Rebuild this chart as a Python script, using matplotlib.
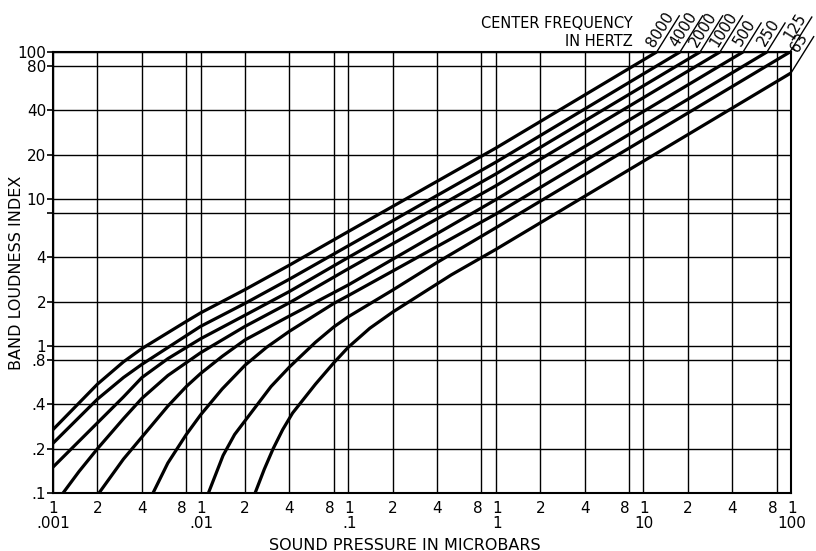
import numpy as np
import matplotlib.pyplot as plt
from matplotlib.lines import Line2D
from matplotlib.transforms import IdentityTransform, ScaledTranslation

# sound pressure (microbars) and band loudness index
p_8000 = [0.001, 0.002, 0.003, 0.004, 0.008, 0.01, 0.02, 0.04, 0.1, 1, 12.3]
s_8000 = [0.27, 0.55, 0.78, 0.96, 1.47, 1.68, 2.42, 3.55, 6.0, 22.2, 100]
p_4000 = [0.001, 0.002, 0.003, 0.004, 0.01, 0.02, 0.04, 0.1, 1, 17.7]
s_4000 = [0.218, 0.435, 0.61, 0.75, 1.36, 1.95, 2.85, 4.8, 17.8, 100]
p_2000 = [0.001, 0.002, 0.003, 0.004, 0.006, 0.01, 0.02, 0.04, 0.1, 1, 24.2]
s_2000 = [0.15, 0.30, 0.45, 0.61, 0.82, 1.12, 1.62, 2.35, 4.0, 14.8, 100]
p_1000 = [0.00117, 0.0015, 0.002, 0.003, 0.004, 0.006, 0.01, 0.02, 0.04, 0.1, 1, 33]
s_1000 = [0.1, 0.14, 0.2, 0.32, 0.44, 0.63, 0.9, 1.36, 1.97, 3.35, 12.3, 100]
p_500 = [0.00205, 0.003, 0.004, 0.006, 0.008, 0.01, 0.014, 0.02, 0.04, 0.1, 1, 47.3]
s_500 = [0.1, 0.17, 0.24, 0.39, 0.53, 0.65, 0.85, 1.1, 1.6, 2.6, 9.9, 100]
p_250 = [0.00476, 0.006, 0.008, 0.01, 0.014, 0.02, 0.028, 0.04, 0.08, 0.1, 1, 68.7]
s_250 = [0.1, 0.16, 0.25, 0.34, 0.51, 0.74, 0.98, 1.26, 1.95, 2.2, 7.9, 100]
p_125 = [0.0113, 0.0142, 0.017, 0.02, 0.03, 0.04, 0.06, 0.08, 0.1, 0.2, 0.4, 1, 98.4]
s_125 = [0.1, 0.18, 0.25, 0.31, 0.53, 0.72, 1.06, 1.35, 1.58, 2.4, 3.7, 6.37, 100]
p_63 = [0.0234, 0.027, 0.031, 0.036, 0.042, 0.06, 0.08, 0.1, 0.14, 0.2, 0.5, 1, 100]
s_63 = [0.1, 0.145, 0.2, 0.27, 0.35, 0.55, 0.77, 0.98, 1.32, 1.70, 3.05, 4.54, 72]

curves = [("8000", p_8000, s_8000), ("4000", p_4000, s_4000),
          ("2000", p_2000, s_2000), ("1000", p_1000, s_1000),
          ("500", p_500, s_500), ("250", p_250, s_250),
          ("125", p_125, s_125), ("63", p_63, s_63)]
# how far along its leader each label starts (pixels)
label_shift = {"8000": 2, "4000": 2, "2000": 2, "1000": 2, "500": 3, "250": 3,
               "125": 10, "63": 21}

decades = [0.001, 0.01, 0.1, 1, 10]
decade_names = [".001", ".01", ".1", "1", "10"]
y_ticks = [0.1, 0.2, 0.4, 0.8, 1, 2, 4, 8, 10, 20, 40, 80, 100]
y_labels = [".1", ".2", ".4", ".8", "1", "2", "4", "", "10", "20", "40", "80", "100"]

W, H = 816, 551
fig = plt.figure(figsize=(W / 100, H / 100), dpi=100)
ax = fig.add_axes([53 / W, 58 / H, (791 - 53) / W, (493 - 52) / H])
ax.set_xscale("log")
ax.set_yscale("log")
ax.set_xlim(0.001, 100)
ax.set_ylim(0.1, 100)

x_ticks, x_labels = [], []
for d, name in zip(decades, decade_names):
    for m in [1, 2, 4, 8]:
        x_ticks.append(d * m)
        x_labels.append("1\n" + name if m == 1 else str(m))
x_ticks.append(100)
x_labels.append("1\n100")

ax.set_xticks(x_ticks)
ax.set_xticklabels(x_labels, fontsize=11, linespacing=0.95)
ax.set_yticks(y_ticks)
ax.set_yticklabels(y_labels, fontsize=11)
ax.xaxis.set_minor_locator(plt.NullLocator())
ax.yaxis.set_minor_locator(plt.NullLocator())
ax.tick_params(axis="x", length=0, pad=6)
ax.tick_params(axis="y", length=4, width=1.2, pad=1)
ax.grid(True, which="major", color="black", lw=1.0)
for sp in ax.spines.values():
    sp.set_linewidth(1.5)

# nudge the "8" labels left so they sit beside the next decade's "1"
for lab in ax.get_xticklabels():
    if lab.get_text() == "8":
        lab.set_transform(lab.get_transform() + ScaledTranslation(-4 / 100, 0, fig.dpi_scale_trans))
    elif lab.get_text().startswith("1\n") and lab.get_text() != "1\n.001":
        lab.set_transform(lab.get_transform() + ScaledTranslation(1 / 100, 0, fig.dpi_scale_trans))

for name, p, s in curves:
    ax.plot(p, s, color="black", lw=2.3, solid_capstyle="butt", solid_joinstyle="round")

# leader lines and rotated frequency labels above the top edge
theta = np.deg2rad(58)
d = np.array([np.cos(theta), np.sin(theta)])
n = np.array([-np.sin(theta), np.cos(theta)])
fig.canvas.draw()
for name, p, s in curves:
    p0 = ax.transData.transform((p[-1], s[-1]))
    L = 9.4 * len(name) + 3 + label_shift[name]
    p1 = p0 + L * d
    fig.add_artist(Line2D([p0[0], p1[0]], [p0[1], p1[1]], color="black", lw=1.0,
                          transform=IdentityTransform()))
    tp = p0 + label_shift[name] * d + 1.5 * n
    fig.text(tp[0] / W, tp[1] / H, name, fontsize=10.8, rotation=58,
             rotation_mode="anchor", ha="left", va="bottom")

fig.text(633 / W, 1 - 23 / H, "CENTER FREQUENCY", ha="right", va="center", fontsize=10.5)
fig.text(633 / W, 1 - 41 / H, "IN HERTZ", ha="right", va="center", fontsize=10.5)
fig.text(405 / W, 1 - 545 / H, "SOUND PRESSURE IN MICROBARS", ha="center", va="center",
         fontsize=11.5)
fig.text(17 / W, 1 - 273 / H, "BAND LOUDNESS INDEX", ha="center", va="center",
         rotation=90, fontsize=11.5)

fig.savefig("out.png", dpi=100)
